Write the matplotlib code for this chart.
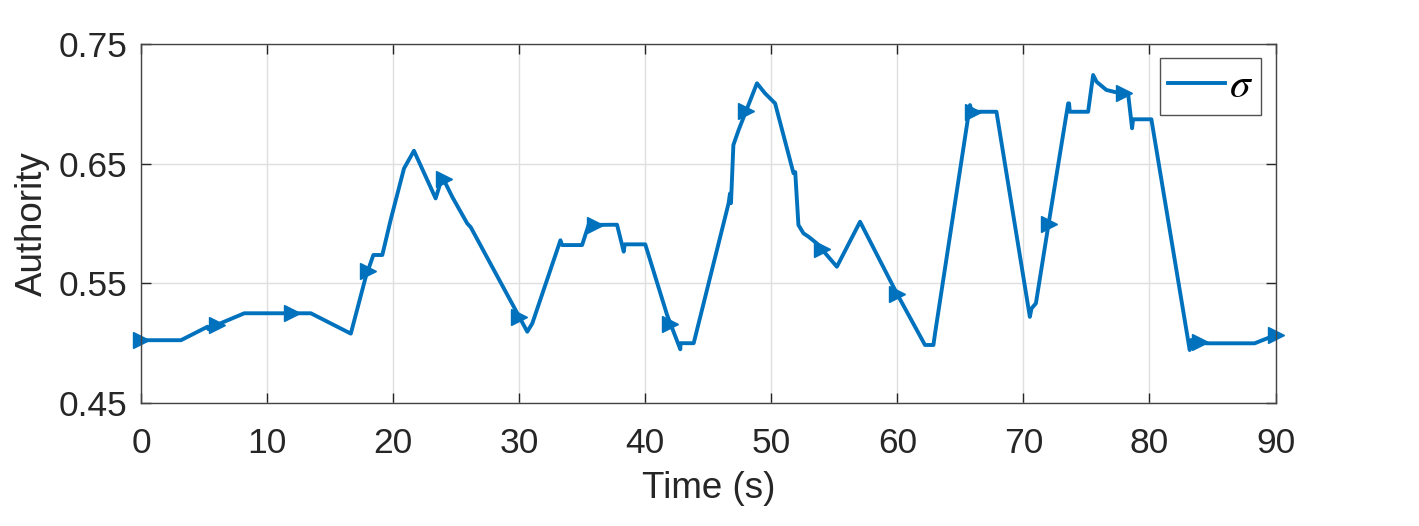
import numpy as np
import matplotlib
matplotlib.use('Agg')
import matplotlib.pyplot as plt

# authority trace
time_s = [0.0, 3.17, 5.28, 5.36, 5.6, 8.19, 13.47, 16.64,
          17.83, 18.43, 19.14, 19.8, 20.86, 21.65, 23.37, 23.9, 24.7, 25.88, 26.15,
          30.64, 31.04, 33.27, 33.4, 34.99, 35.5, 37.76, 38.29, 38.37, 40.0,
          41.73, 42.78, 42.8, 43.84, 46.61, 46.72, 46.8, 46.99, 47.4, 48.86,
          49.5, 50.3, 51.76, 51.9, 51.95, 52.15, 52.55, 52.95, 53.6, 55.2, 57.04,
          59.95, 62.19, 62.86, 62.99, 65.76, 65.9, 67.86, 70.51, 70.64, 70.99,
          72.0, 73.55, 73.62, 73.68, 75.13, 75.53, 75.8, 76.58, 77.5, 78.3,
          78.62, 78.7, 80.15, 83.19, 83.32, 84.5, 88.34, 90.0]
authority = [0.5025, 0.5025, 0.5138, 0.5116, 0.5135, 0.525, 0.525, 0.508,
             0.5556, 0.5737, 0.5737, 0.603, 0.646, 0.6608, 0.621, 0.639, 0.622, 0.600, 0.597,
             0.5096, 0.5166, 0.586, 0.582, 0.582, 0.5988, 0.599, 0.5765, 0.5826, 0.5826,
             0.5236, 0.4949, 0.5, 0.5, 0.6169, 0.625, 0.617, 0.6656, 0.678, 0.7172,
             0.7088, 0.7004, 0.642, 0.643, 0.6336, 0.5988, 0.5918, 0.589, 0.5835, 0.5639, 0.6015,
             0.5417, 0.4985, 0.4985, 0.5083, 0.699, 0.6934, 0.6934, 0.522, 0.529, 0.5333,
             0.600, 0.7004, 0.7004, 0.6934, 0.6934, 0.7241, 0.7185, 0.7116, 0.7093, 0.7088,
             0.6796, 0.6871, 0.6871, 0.4943, 0.5027, 0.4999, 0.4999, 0.5068]
marker_times = np.arange(0, 91, 6)

x_ticks = [0, 10, 20, 30, 40, 50, 60, 70, 80, 90]
y_ticks = [0.45, 0.55, 0.65, 0.75]
y_ticklabels = ['0.45', '0.55', '0.65', '0.75']

plt.rcParams['font.family'] = ['Liberation Sans', 'DejaVu Sans']
plt.rcParams['mathtext.fontset'] = 'stix'

blue = '#0072BD'
dark = '#262626'

fig = plt.figure(figsize=(14.19, 5.26), dpi=100)
ax = fig.add_axes([0.0994, 0.2338, 0.7995, 0.6825])

ax.plot(time_s, authority, color=blue, lw=2.8, label=r'$\sigma$')
ax.plot(marker_times, np.interp(marker_times, time_s, authority), ls='none',
        marker='>', ms=11, color=blue, clip_on=False)

ax.set_xlim(0, 90)
ax.set_ylim(0.45, 0.75)
ax.set_xticks(x_ticks)
ax.set_yticks(y_ticks)
ax.set_yticklabels(y_ticklabels)
ax.grid(True, color='#dfdfdf', lw=1.0)
ax.set_axisbelow(True)
ax.tick_params(direction='in', length=7, width=1, colors=dark, labelsize=25.5,
               top=True, right=True)
ax.tick_params(axis='x', pad=17)
ax.tick_params(axis='y', pad=10)
for s in ax.spines.values():
    s.set_color('#444444')
    s.set_linewidth(1.0)

ax.set_xlabel('Time (s)', fontsize=26.5, color=dark, labelpad=8)
ax.set_ylabel('Authority', fontsize=26.5, color=dark, labelpad=6)

leg = ax.legend(loc='upper right', fontsize=30, handlelength=1.35, handletextpad=0.1,
                borderpad=0.2, fancybox=False, edgecolor='#262626',
                bbox_to_anchor=(0.9875, 0.961), borderaxespad=0)
leg.get_frame().set_linewidth(1.0)
leg.get_lines()[0].set_linewidth(2.8)

fig.savefig('out.png', dpi=100, facecolor='white')
